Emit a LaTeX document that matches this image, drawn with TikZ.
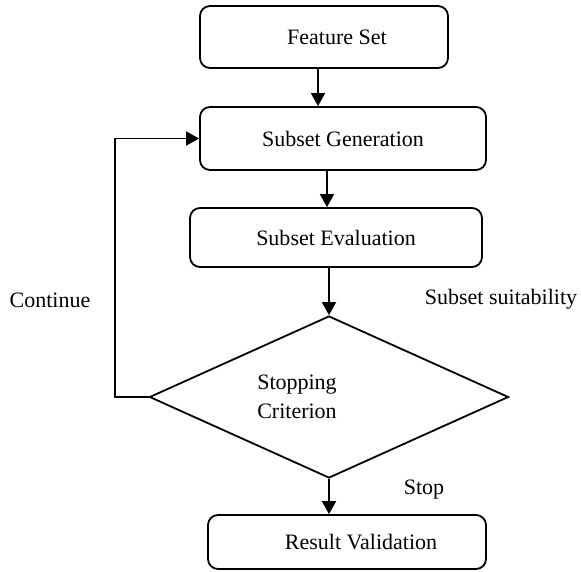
\documentclass[tikz,border=0pt]{standalone}
\usepackage{fontspec}
\setmainfont{Liberation Serif}
\usetikzlibrary{shapes.geometric,arrows.meta}

\tikzset{
 blk/.style={draw, line width=0.9pt, rounded corners=5pt, inner sep=0pt},
 dec/.style={draw, diamond, line width=0.9pt, inner sep=0pt},
 arr/.style={line width=0.9pt, -{Triangle[length=6.5pt,width=7pt]}}
}

\begin{document}
\begin{tikzpicture}[x=0.5pt,y=-0.5pt,font=\fontsize{11}{14.5}\selectfont]
 \useasboundingbox (0,0) rectangle (581,571);

 \coordinate (p1) at (324,37);
 \coordinate (p2) at (343,138.5);
 \coordinate (p3) at (336,237.5);
 \coordinate (p4) at (329,397);
 \coordinate (p5) at (347,542);

\node [blk, minimum width=124pt, minimum height=31pt] (fs) at (p1) {\hspace*{13pt}Feature Set};
\node [blk, minimum width=143pt, minimum height=31.5pt] (sg) at (p2) {Subset Generation};
\node [blk, minimum width=146pt, minimum height=29.5pt] (se) at (p3) {Subset Evaluation};
\node [dec, minimum width=179.5pt, minimum height=81pt] (sc) at (p4) {};
\node [align=center] (sctxt) at ([xshift=-16pt]sc.center) {Stopping\\Criterion};
\node [blk, minimum width=139pt, minimum height=27pt] (rv) at (p5) {\hspace*{14pt}Result Validation};

\node (cont) at (50,300) {Continue};
\node (suit) at (501,299) {Subset suitability};
\node (stop) at (424,490) {Stop};

\draw[arr] ([xshift=-3pt]fs.south) -- ([xshift=-3pt]fs.south |- sg.north);
\draw[arr] ([xshift=-8pt]sg.south) -- ([xshift=-8pt]sg.south |- se.north);
\draw[arr] (sc.north |- se.south) -- (sc.north);
\draw[arr] (sc.south) -- (sc.south |- rv.north);
\draw[arr] (sc.west) -- ++(-34,0) |- (sg.west);

\end{tikzpicture}
\end{document}
